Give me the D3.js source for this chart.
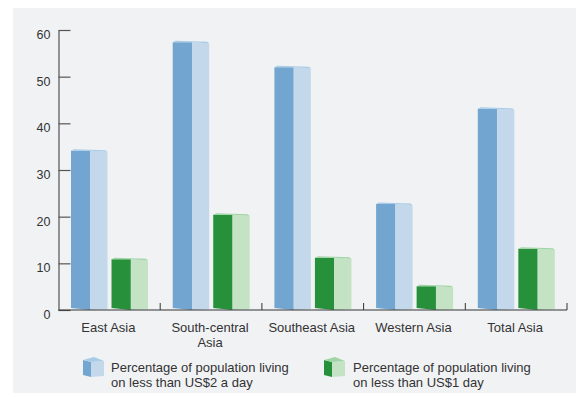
<!DOCTYPE html>
<html>
<head>
<meta charset="utf-8">
<script src="https://cdn.jsdelivr.net/npm/d3@7"></script>
<style>
  body { margin: 0; background: #fff; }
  svg { display: block; font-family: "Liberation Sans", Arial, sans-serif; }
</style>
</head>
<body>
<svg id="chart" width="576" height="393"></svg>
<script>
// ── Data ──
const categories = ["East Asia", "South-central Asia", "Southeast Asia", "Western Asia", "Total Asia"];
const categoryLines = [["East Asia"], ["South-central", "Asia"], ["Southeast Asia"], ["Western Asia"], ["Total Asia"]];
const under2 = [34.1, 57.4, 52.0, 22.7, 43.1];
const under1 = [10.9, 20.4, 11.2, 5.1, 13.1];
const yTicks = [0, 10, 20, 30, 40, 50, 60];
const seriesKeys = ["under2", "under1"];
const legendLabels = [
  ["Percentage of population living", "on less than US$2 a day"],
  ["Percentage of population living", "on less than US$1 day"]
];

const palette = {
  under2: { front: "#72a6d1", side: "#c3d8ea", top: "#a8cbe7" },
  under1: { front: "#26913a", side: "#c4e3c4", top: "#9fd4a5" }
};

const svg = d3.select("#chart");

// panel background
svg.append("rect")
  .attr("x", 13).attr("y", 8)
  .attr("width", 563).attr("height", 385)
  .attr("fill", "#f1f2f4");

const x0 = 58.5, x1 = 567, yBase = 310, yTop = 30;

const x = d3.scaleBand().domain(categories).range([x0, x1]).paddingInner(0).paddingOuter(0);
const xs = d3.scaleBand().domain(seriesKeys).range([12.5, 89.5]).paddingInner(0.1);
const y = d3.scaleLinear().domain([0, 60]).range([yBase, yTop]);

// ── y axis ──
const yAxis = svg.append("g")
  .attr("transform", `translate(${x0},0)`)
  .call(d3.axisLeft(y).tickValues(yTicks).tickSize(-12).tickSizeOuter(0).tickPadding(8));
yAxis.select(".domain").attr("stroke", "#333").attr("stroke-width", 1);
yAxis.selectAll(".tick line").attr("stroke", "#555").attr("stroke-width", 1.2);
yAxis.selectAll(".tick text")
  .attr("y", 4.5)
  .attr("fill", "#333")
  .style("font-size", "12.5px")
  .style("font-family", "'Liberation Sans', Arial, sans-serif");

// ── bars (3D boxes) ──
function drawBox(g, bx, bw, top, bottom, col) {
  const fw = bw * 0.53;
  const xm = bx + fw, xr = bx + bw;
  // front face (bottom slants slightly)
  g.append("polygon")
    .attr("points", [[bx, top], [xm, top], [xm, bottom], [bx, bottom - 2]].join(" "))
    .attr("fill", col.front);
  // side face
  g.append("polygon")
    .attr("points", [[xm, top], [xr, top + 1], [xr, bottom - 1], [xm, bottom]].join(" "))
    .attr("fill", col.side);
  // top face
  g.append("polygon")
    .attr("points", [[bx, top], [bx + 3, top - 1.5], [xr - 2, top - 0.5], [xr, top + 1], [xm, top]].join(" "))
    .attr("fill", col.top);
}

const barsG = svg.append("g");
categories.forEach((c, i) => {
  const vals = { under2: under2[i], under1: under1[i] };
  seriesKeys.forEach(k => {
    drawBox(barsG, x(c) + xs(k), xs.bandwidth(), y(vals[k]), yBase, palette[k]);
  });
});

// ── x axis ──
const xAxis = svg.append("g");
xAxis.append("line")
  .attr("x1", x0).attr("x2", x1)
  .attr("y1", yBase).attr("y2", yBase)
  .attr("stroke", "#333").attr("stroke-width", 1.2);
categories.forEach(c => {
  const bx = x(c) + x.bandwidth();
  xAxis.append("line")
    .attr("x1", bx).attr("x2", bx)
    .attr("y1", yBase).attr("y2", yBase - 7)
    .attr("stroke", "#333").attr("stroke-width", 1);
});
categories.forEach((c, i) => {
  const cx = x(c) + x.bandwidth() / 2 - 1;
  const t = xAxis.append("text")
    .attr("x", cx)
    .attr("y", 332)
    .attr("text-anchor", "middle")
    .attr("fill", "#333")
    .style("font-size", "13px");
  categoryLines[i].forEach((line, j) => {
    t.append("tspan").attr("x", cx).attr("dy", j === 0 ? 0 : 15).text(line);
  });
});

// ── legend ──
const legendPos = [{ ix: 83, tx: 111 }, { ix: 324, tx: 353 }];
seriesKeys.forEach((k, i) => {
  const lg = svg.append("g");
  const col = palette[k];
  const ix = legendPos[i].ix, iy = 357;
  lg.append("polygon")
    .attr("points", [[ix, iy + 3], [ix + 8, iy + 5], [ix + 8, iy + 20], [ix, iy + 18]].join(" "))
    .attr("fill", col.front);
  lg.append("polygon")
    .attr("points", [[ix + 8, iy + 5], [ix + 21, iy + 4], [ix + 21, iy + 19], [ix + 8, iy + 20]].join(" "))
    .attr("fill", col.side);
  lg.append("polygon")
    .attr("points", [[ix, iy + 3], [ix + 11, iy], [ix + 21, iy + 4], [ix + 8, iy + 5]].join(" "))
    .attr("fill", col.top);
  const t = lg.append("text")
    .attr("x", legendPos[i].tx).attr("y", 371.5)
    .attr("fill", "#333")
    .style("font-size", "13px");
  legendLabels[i].forEach((line, j) => {
    t.append("tspan").attr("x", legendPos[i].tx).attr("dy", j === 0 ? 0 : 15).text(line);
  });
});
</script>
</body>
</html>
